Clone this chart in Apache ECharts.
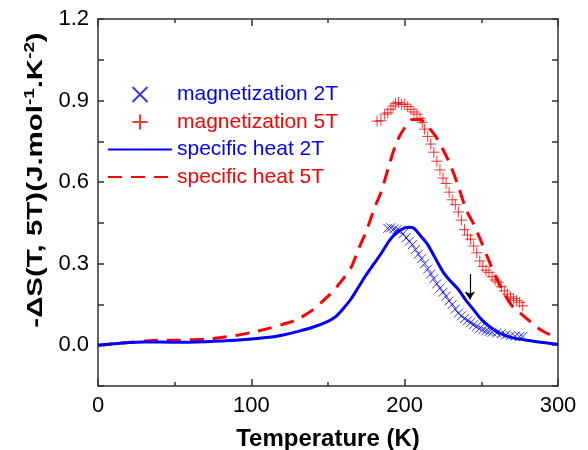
<!DOCTYPE html>
<html>
<head>
<meta charset="utf-8">
<script src="https://cdn.jsdelivr.net/npm/echarts@6/dist/echarts.min.js"></script>
<style>html,body{margin:0;padding:0;background:#fff}#c{width:588px;height:450px}</style>
</head>
<body>
<div id="c"></div>
<script>
// Specific heat 2T (solid blue)
var heat2T_T = [0,10,20,30,50,70,90,110,120,130,140,150,155,160,165,170,175,180,185,190,195,200,203,206,210,215,220,225,230,235,240,245,250,255,260,265,270,280,290,300];
var heat2T_v = [0,0.005,0.01,0.012,0.011,0.013,0.018,0.028,0.037,0.05,0.066,0.088,0.105,0.135,0.17,0.215,0.26,0.30,0.34,0.385,0.415,0.432,0.434,0.43,0.405,0.37,0.32,0.27,0.235,0.205,0.165,0.13,0.095,0.07,0.05,0.037,0.028,0.018,0.01,0.004];
// Specific heat 5T (dashed red)
var heat5T_T = [0,10,20,30,40,50,60,70,80,90,100,110,120,130,140,150,155,160,165,170,175,180,185,190,195,200,205,210,215,220,225,230,235,240,245,250,255,260,265,270,275,280,285,290,295,300];
var heat5T_v = [0,0.005,0.01,0.015,0.018,0.018,0.02,0.022,0.028,0.036,0.047,0.06,0.076,0.095,0.13,0.18,0.21,0.245,0.285,0.355,0.42,0.5,0.57,0.665,0.75,0.8,0.83,0.83,0.805,0.77,0.72,0.66,0.585,0.5,0.445,0.38,0.31,0.245,0.19,0.145,0.12,0.096,0.072,0.052,0.038,0.03];
// Magnetization 2T (blue x)
var mag2T_T = [189,191,193,195,197,199,201,203,205,207,209,211,213,215,217,219,221,223,225,227,229,231,233,235,237,239,241,243,245,247,249,251,253,255,257,260,263,266,269,272,275,277];
var mag2T_v = [0.43,0.432,0.428,0.425,0.42,0.41,0.395,0.382,0.37,0.352,0.335,0.318,0.3,0.28,0.262,0.245,0.226,0.21,0.195,0.18,0.163,0.15,0.133,0.118,0.108,0.098,0.09,0.083,0.076,0.069,0.062,0.057,0.053,0.05,0.048,0.045,0.042,0.038,0.035,0.033,0.032,0.032];
// Magnetization 5T (red +)
var mag5T_T = [182,184.5,187,189,191,192.5,194,196,198,200,202,204,206,208,210,211.5,213,215,217,219,221,223,225,227,229,231,233,235,237,239,241,243,245,247,249,251,253,255,257,259,261,263,265,267,269,271,273,275,277];
var mag5T_v = [0.824,0.826,0.85,0.855,0.868,0.88,0.89,0.893,0.886,0.887,0.878,0.868,0.858,0.85,0.835,0.82,0.795,0.768,0.74,0.71,0.677,0.645,0.615,0.595,0.563,0.535,0.517,0.49,0.46,0.425,0.405,0.39,0.365,0.34,0.31,0.29,0.276,0.268,0.252,0.24,0.232,0.215,0.2,0.188,0.178,0.172,0.165,0.158,0.145];
// Arrow annotation (T, from, to)
var arrowT = 242.5, arrowFrom = 0.262, arrowTo = 0.168;
var xTickLabels = [0,100,200,300];
var yTickLabels = [0.0,0.3,0.6,0.9,1.2];

function pairs(a,b){return a.map(function(t,i){return [t,b[i]];});}
var FONT = 'Liberation Sans, Arial, sans-serif';
var crossPath = 'path://M0,0L10,10M10,0L0,10';
var plusPath = 'path://M5,0L5,10M0,5L10,5';

var axisLineStyle = {color:'#333', width:1.5};
var chart = echarts.init(document.getElementById('c'));
var xBase = {
  type:'value', min:0, max:300, interval:100,
  axisLine:{show:true, onZero:false, lineStyle:axisLineStyle},
  axisTick:{show:true, inside:true, length:7, lineStyle:{color:'#333', width:1.5}},
  minorTick:{show:true, splitNumber:2, length:4, lineStyle:{color:'#333', width:1.5}},
  splitLine:{show:false}
};
var yBase = {
  type:'value', min:-0.15, max:1.2, interval:0.15,
  axisLine:{show:true, onZero:false, lineStyle:axisLineStyle},
  axisTick:{show:true, inside:true, length:6, lineStyle:{color:'#333', width:1.5}},
  splitLine:{show:false}
};
var hideSym = {opacity:0};
chart.setOption({
  animation:false,
  backgroundColor:'#fff',
  grid:{left:98, right:30, top:19, bottom:64, containLabel:false, outerBoundsMode:'none'},
  xAxis:[
    Object.assign({}, xBase, {position:'bottom',
      name:'Temperature (K)', nameLocation:'middle', nameGap:41,
      nameTextStyle:{fontFamily:FONT, fontSize:24, fontWeight:'bold', color:'#000'},
      axisLabel:{show:true, fontFamily:FONT, fontSize:22, color:'#000', margin:9,
        formatter:function(v){return xTickLabels.indexOf(v)>=0 ? String(v) : '';}}}),
    Object.assign({}, xBase, {position:'top', axisLabel:{show:false}})
  ],
  yAxis:[
    Object.assign({}, yBase, {position:'left',
      axisLabel:{show:true, fontFamily:FONT, fontSize:22, color:'#000', margin:9,
        formatter:function(v){
          for (var i=0;i<yTickLabels.length;i++){ if (Math.abs(v-yTickLabels[i])<1e-6) return yTickLabels[i].toFixed(1); }
          return '';
        }}}),
    Object.assign({}, yBase, {position:'right', axisLabel:{show:false}})
  ],
  legend:{
    orient:'vertical', left:107, top:84, padding:0, itemWidth:64, itemHeight:15, itemGap:6.5,
    symbolKeepAspect:true,
    textStyle:{fontFamily:FONT, fontSize:21},
    data:[
      {name:'magnetization 2T', textStyle:{color:'#0000ff'}},
      {name:'magnetization 5T', textStyle:{color:'#ff0000'}},
      {name:'specific heat 2T', textStyle:{color:'#0000ff'}, itemStyle:hideSym},
      {name:'specific heat 5T', textStyle:{color:'#ff0000'}, itemStyle:hideSym}
    ]
  },
  graphic:[{
    type:'text', x:36, y:180, rotation:Math.PI/2, scaleX:1.34,
    style:{
      text:'{b|-ΔS(T, 5T)(J.mol}{s|-1}{b|.K}{s|-2}{b|)}',
      align:'center', verticalAlign:'middle',
      rich:{
        b:{fontFamily:FONT, fontSize:22, fontWeight:'bold', fill:'#000', lineHeight:26},
        s:{fontFamily:FONT, fontSize:14, fontWeight:'bold', fill:'#000', lineHeight:26, verticalAlign:'top'}
      }
    }
  }],
  series:[
    {name:'specific heat 5T', type:'line', data:pairs(heat5T_T, heat5T_v), smooth:0.3, showSymbol:false, symbol:'none',
      color:'#ff0000', lineStyle:{color:'#ff0000', width:3, type:[14,9]}, z:2},
    {name:'specific heat 2T', type:'line', data:pairs(heat2T_T, heat2T_v), smooth:0.3, showSymbol:false, symbol:'none',
      color:'#0000ff', lineStyle:{color:'#0000ff', width:3}, z:3,
      markLine:{silent:true, symbol:['none','arrow'], symbolSize:8, label:{show:false},
        lineStyle:{color:'#000', width:1.2, type:'solid'},
        data:[[{coord:[arrowT, arrowFrom]},{coord:[arrowT, arrowTo]}]]}},
    {name:'magnetization 2T', type:'scatter', data:pairs(mag2T_T, mag2T_v), symbol:crossPath, symbolSize:9,
      color:'#0000ff', itemStyle:{color:'none', borderColor:'#0000ff', borderWidth:1}, z:4},
    {name:'magnetization 5T', type:'scatter', data:pairs(mag5T_T, mag5T_v), symbol:plusPath, symbolSize:11,
      color:'#ff0000', itemStyle:{color:'none', borderColor:'#ff0000', borderWidth:1}, z:4}
  ]
});
</script>
</body>
</html>
